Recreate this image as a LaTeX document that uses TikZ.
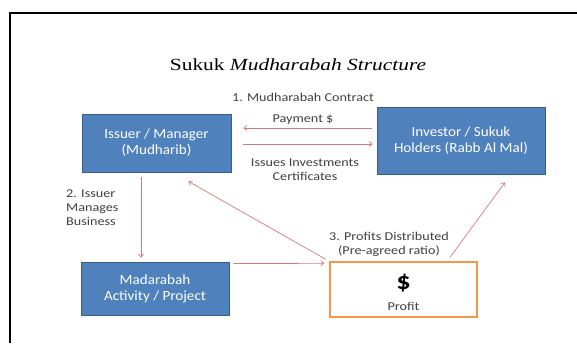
\documentclass[tikz,border=0pt]{standalone}
\usepackage{fontspec}
\usetikzlibrary{arrows.meta,calc}
\newfontfamily\calfont{Carlito}[FakeStretch=1.18]
\newfontfamily\boxfont{Carlito}[FakeStretch=1.08]
\newfontfamily\ttlfont{Liberation Serif}[FakeStretch=1.26]
\definecolor{boxblue}{HTML}{4F81BD}
\definecolor{boxedge}{HTML}{385D8A}
\definecolor{arrred}{HTML}{D47A7A}
\definecolor{profedge}{HTML}{F79646}
\definecolor{lbltext}{HTML}{404040}
\tikzset{
  bluebox/.style={draw=boxedge, line width=0.8pt, fill=boxblue, text=white, align=center,
    inner sep=0pt, font=\boxfont\fontsize{14}{16}\selectfont},
  profbox/.style={draw=profedge, line width=1.4pt, fill=white, inner sep=0pt},
  lbl/.style={text=lbltext, align=center, inner sep=0pt, font=\calfont\fontsize{12}{14}\selectfont},
  arr/.style={draw=arrred, line width=0.7pt, -{Straight Barb[length=3pt,width=5pt]}},
}
\begin{document}
\begin{tikzpicture}[x=1pt,y=-1pt]
\useasboundingbox (0,0) rectangle (577,343);
% frame
\draw[line width=1.6pt] (577,13) -- (10,13) -- (10,343);
% title
\node[font=\ttlfont\fontsize{17}{20}\selectfont, inner sep=0pt] (title) at (298,65) {Sukuk \textit{Mudharabah Structure}};
% boxes
\node[bluebox, minimum width=149pt, minimum height=58pt] (iss) at (156.5,143) {Issuer / Manager\\(Mudharib)};
\node[bluebox, minimum width=168pt, minimum height=67pt] (inv) at (461,140.5) {Investor / Sukuk\\Holders (Rabb Al Mal)};
\node[bluebox, minimum width=148pt, minimum height=53pt] (mad) at (155,288.5) {Madarabah\\Activity / Project};
\node[profbox, minimum width=147pt, minimum height=55pt] (prof) at (403.5,289.5) {};
\node[inner sep=0pt, font=\calfont\bfseries\fontsize{24}{24}\selectfont] (dollar) at (403.5,283) {\$};
\node[lbl] (proftxt) at (403.5,306) {Profit};
% labels
\node[lbl] (contract) at (303,97) {1. Mudharabah Contract};
\node[lbl] (pay) at (303,120) {Payment \$};
\node[lbl] (issues) at (305,169.5) {Issues Investments\\Certificates};
\node[lbl, align=left, anchor=west] (manage) at (66,208) {2. Issuer\\Manages\\Business};
\node[lbl] (dist) at (389,244.5) {3. Profits Distributed\\(Pre-agreed ratio)};
% arrows
\draw[arr, shorten <=5pt, shorten >=12pt] (inv.west |- 0,128) -- (iss.east |- 0,128);
\draw[arr, shorten <=12pt, shorten >=4pt] (iss.east |- 0,144) -- (inv.west |- 0,144);
\draw[arr, shorten <=5pt, shorten >=4pt] (iss.south -| 141,0) -- (mad.north -| 141,0);
\draw[arr, shorten <=4pt, shorten >=5pt] ([yshift=-2pt]mad.north east) -- ([yshift=-2pt]prof.north west);
\draw[arr, shorten <=4pt] (prof.north west) -- ([xshift=-43pt,yshift=-9pt]iss.south east);
\draw[arr] ([xshift=46.5pt,yshift=4pt]prof.north) -- ([xshift=44pt,yshift=-8pt]inv.south);
\end{tikzpicture}
\end{document}
